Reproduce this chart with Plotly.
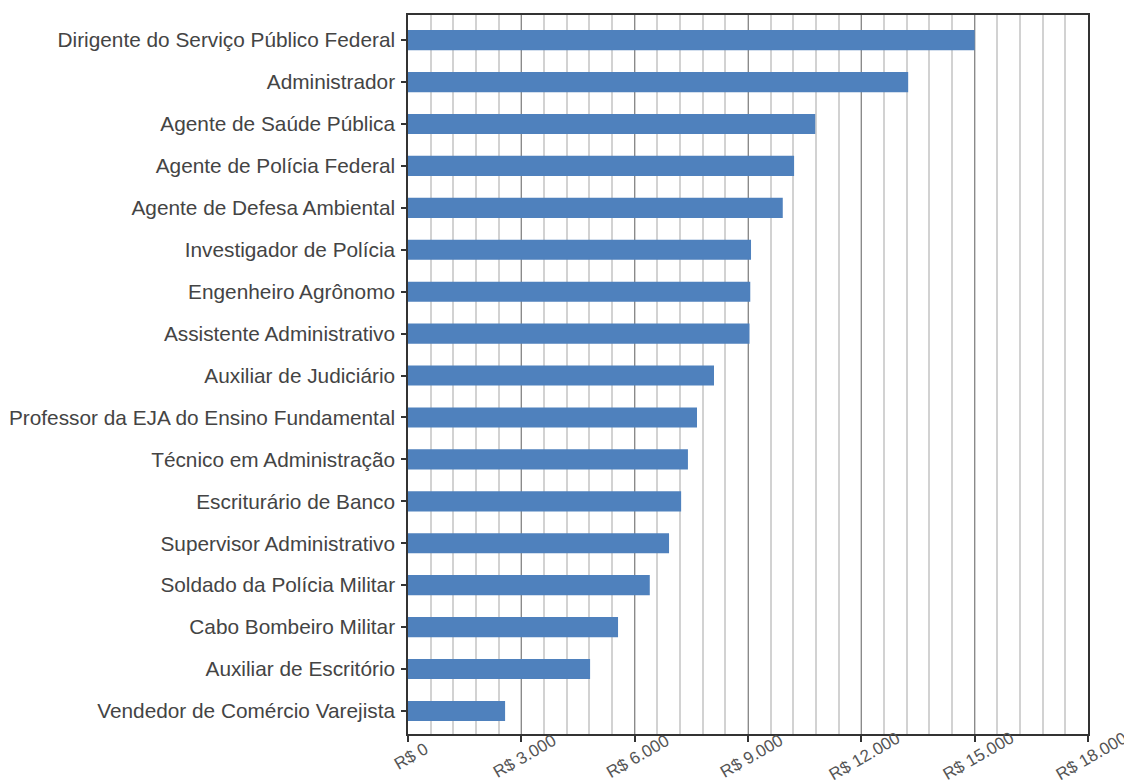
import plotly.graph_objects as go

occupations = [
    "Dirigente do Serviço Público Federal",
    "Administrador",
    "Agente de Saúde Pública",
    "Agente de Polícia Federal",
    "Agente de Defesa Ambiental",
    "Investigador de Polícia",
    "Engenheiro Agrônomo",
    "Assistente Administrativo",
    "Auxiliar de Judiciário",
    "Professor da EJA do Ensino Fundamental",
    "Técnico em Administração",
    "Escriturário de Banco",
    "Supervisor Administrativo",
    "Soldado da Polícia Militar",
    "Cabo Bombeiro Militar",
    "Auxiliar de Escritório",
    "Vendedor de Comércio Varejista",
]
salaries = [15000, 13240, 10780, 10220, 9920, 9080, 9060, 9040, 8100,
            7650, 7410, 7230, 6910, 6400, 5560, 4820, 2570]

tick_vals = [0, 3000, 6000, 9000, 12000, 15000, 18000]
tick_text = ["R$ 0", "R$ 3.000", "R$ 6.000", "R$ 9.000", "R$ 12.000", "R$ 15.000", "R$ 18.000"]

fig = go.Figure(go.Bar(
    x=salaries, y=occupations, orientation="h",
    marker=dict(color="#4f81bd", line=dict(width=0)),
    width=0.48,
))

# x tick labels: centred on the tick and rotated (as in the reference)
for v, t in zip(tick_vals, tick_text):
    fig.add_annotation(
        x=v, xref="x", y=-0.0306, yref="paper",
        text=t, showarrow=False, textangle=-30,
        xanchor="center", yanchor="middle", xshift=3,
        font=dict(family="Liberation Sans, Arial, sans-serif", size=17, color="#555555"),
    )

fig.update_layout(
    width=1124, height=776,
    margin=dict(l=400, r=44, t=7, b=50),
    plot_bgcolor="white", paper_bgcolor="white",
    font=dict(family="Liberation Sans, Arial, sans-serif", size=20.8, color="#444444"),
    showlegend=False,
)
fig.update_xaxes(
    range=[0, 18000],
    automargin=False,
    tickvals=tick_vals, ticktext=tick_text,
    showticklabels=False,
    showgrid=True, gridcolor="#8a8a8a", gridwidth=1,
    minor=dict(dtick=600, showgrid=True, gridcolor="#d2d2d2", gridwidth=1.5, ticks=""),
    showline=True, linecolor="#333333", linewidth=1.5, mirror=True,
    ticks="outside", ticklen=6, tickcolor="#333333", tickwidth=1.5,
    zeroline=False,
)
fig.update_yaxes(
    automargin=False,
    categoryorder="array", categoryarray=occupations[::-1],
    range=[-0.55, 16.6],
    showgrid=False,
    showline=True, linecolor="#333333", linewidth=1.5, mirror=True,
    ticks="outside", ticklen=5, tickcolor="#333333", tickwidth=1.5,
    ticklabelstandoff=2,
    tickfont=dict(size=20.8, color="#444444"),
)

fig.write_html("out.html")
